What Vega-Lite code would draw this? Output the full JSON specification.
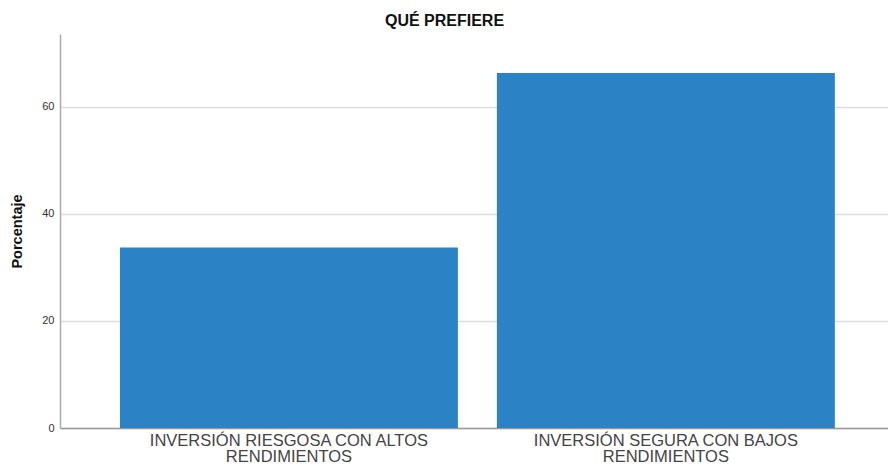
{
  "$schema": "https://vega.github.io/schema/vega-lite/v6.json",
  "autosize": "none",
  "width": 828,
  "height": 394,
  "padding": {"left": 60, "top": 34, "right": 0, "bottom": 39},
  "background": "white",
  "title": {
    "text": "QUÉ PREFIERE",
    "font": "Liberation Sans",
    "fontSize": 16,
    "fontWeight": "bold",
    "color": "#111",
    "anchor": "middle",
    "frame": "group",
    "dx": -29.5,
    "offset": 5
  },
  "data": {
    "values": [
      {"categoria": "INVERSIÓN RIESGOSA CON ALTOS RENDIMIENTOS", "porcentaje": 33.7},
      {"categoria": "INVERSIÓN SEGURA CON BAJOS RENDIMIENTOS", "porcentaje": 66.3}
    ]
  },
  "mark": {"type": "bar", "color": "#2b83c5"},
  "encoding": {
    "x": {
      "field": "categoria",
      "type": "nominal",
      "sort": null,
      "scale": {"paddingInner": 0.1034, "paddingOuter": 0.15, "align": 0.53},
      "axis": {
        "title": null,
        "labelAngle": 0,
        "labelExpr": "[replace(datum.label, ' RENDIMIENTOS', ''), 'RENDIMIENTOS']",
        "labelFont": "Liberation Sans",
        "labelFontSize": 16.5,
        "labelColor": "#444",
        "labelLineHeight": 16.5,
        "labelPadding": 4,
        "labelLimit": 0,
        "ticks": false,
        "domainColor": "#999",
        "domainWidth": 1.5,
        "grid": false
      }
    },
    "y": {
      "field": "porcentaje",
      "type": "quantitative",
      "scale": {"domain": [0, 73.6], "nice": false},
      "axis": {
        "title": "Porcentaje",
        "titleFont": "Liberation Sans",
        "titleFontSize": 14.5,
        "titleFontWeight": "bold",
        "titleColor": "#111",
        "titlePadding": 17,
        "values": [0, 20, 40, 60],
        "labelFont": "Liberation Sans",
        "labelFontSize": 11,
        "labelColor": "#333",
        "labelPadding": 6,
        "ticks": false,
        "domainColor": "#aaa",
        "domainWidth": 1.5,
        "grid": true,
        "gridColor": "#ddd",
        "gridWidth": 1.5
      }
    }
  },
  "config": {"view": {"stroke": null}}
}
